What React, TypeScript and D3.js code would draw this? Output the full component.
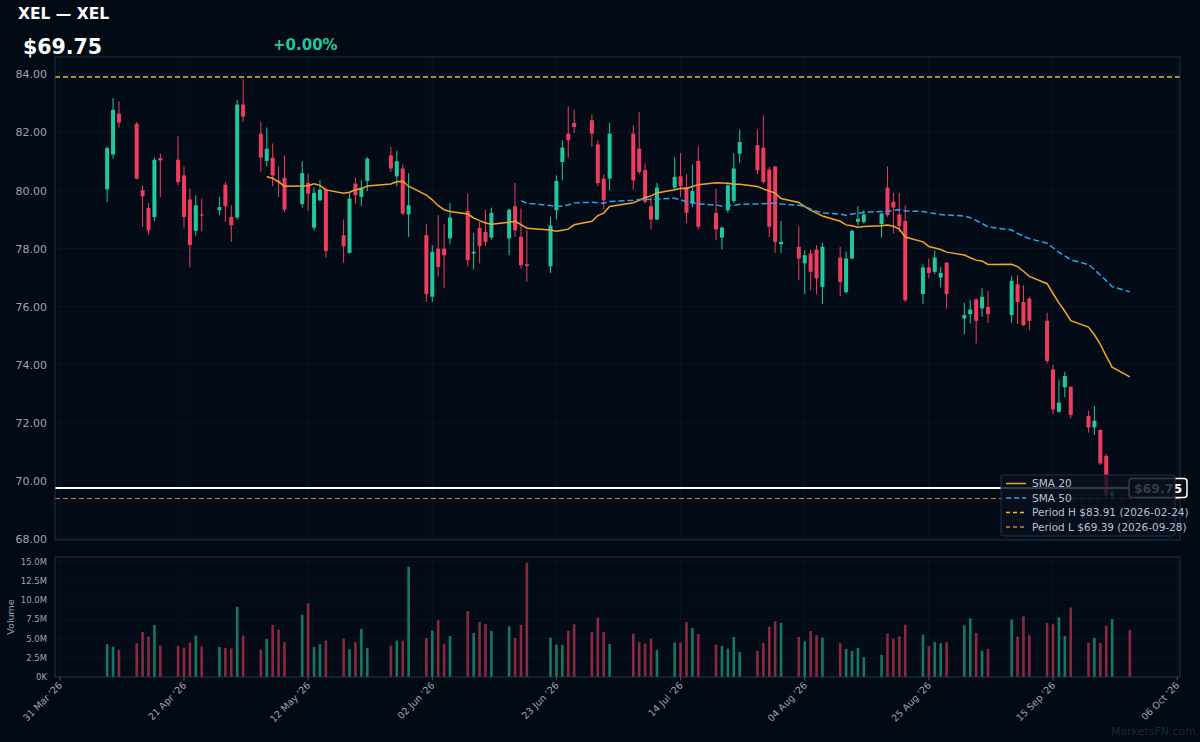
import React from 'react';
import * as d3 from 'd3';

// daily bars (volume in millions)
const dates = [
  '2026-04-08', '2026-04-09', '2026-04-10',
  '2026-04-13', '2026-04-14', '2026-04-15', '2026-04-16', '2026-04-17',
  '2026-04-20', '2026-04-21', '2026-04-22', '2026-04-23', '2026-04-24',
  '2026-04-27', '2026-04-28', '2026-04-29', '2026-04-30', '2026-05-01',
  '2026-05-04', '2026-05-05', '2026-05-06', '2026-05-07', '2026-05-08',
  '2026-05-11', '2026-05-12', '2026-05-13', '2026-05-14', '2026-05-15',
  '2026-05-18', '2026-05-19', '2026-05-20', '2026-05-21', '2026-05-22',
  '2026-05-26', '2026-05-27', '2026-05-28', '2026-05-29',
  '2026-06-01', '2026-06-02', '2026-06-03', '2026-06-04', '2026-06-05',
  '2026-06-08', '2026-06-09', '2026-06-10', '2026-06-11', '2026-06-12',
  '2026-06-15', '2026-06-16', '2026-06-17', '2026-06-18',
  '2026-06-22', '2026-06-23', '2026-06-24', '2026-06-25', '2026-06-26',
  '2026-06-29', '2026-06-30', '2026-07-01', '2026-07-02',
  '2026-07-06', '2026-07-07', '2026-07-08', '2026-07-09', '2026-07-10',
  '2026-07-13', '2026-07-14', '2026-07-15', '2026-07-16', '2026-07-17',
  '2026-07-20', '2026-07-21', '2026-07-22', '2026-07-23', '2026-07-24',
  '2026-07-27', '2026-07-28', '2026-07-29', '2026-07-30', '2026-07-31',
  '2026-08-03', '2026-08-04', '2026-08-05', '2026-08-06', '2026-08-07',
  '2026-08-10', '2026-08-11', '2026-08-12', '2026-08-13', '2026-08-14',
  '2026-08-17', '2026-08-18', '2026-08-19', '2026-08-20', '2026-08-21',
  '2026-08-24', '2026-08-25', '2026-08-26', '2026-08-27', '2026-08-28',
  '2026-08-31', '2026-09-01', '2026-09-02', '2026-09-03', '2026-09-04',
  '2026-09-08', '2026-09-09', '2026-09-10', '2026-09-11',
  '2026-09-14', '2026-09-15', '2026-09-16', '2026-09-17', '2026-09-18',
  '2026-09-21', '2026-09-22', '2026-09-23', '2026-09-24', '2026-09-25',
  '2026-09-28',
];

const opens = [
  80.04, 81.24, 82.65,
  82.3, 80.01, 79.4, 79.09, 81.12,
  81.06, 80.52, 79.69, 78.61, 79.18,
  79.32, 80.2, 79.09, 79.07, 82.96,
  81.96, 81.02, 81.13, 80.35, 80.44,
  79.53, 80.26, 78.72, 79.66, 80.03,
  78.46, 77.85, 80.24, 79.78, 80.33,
  81.21, 80.49, 80.76, 79.18,
  78.46, 76.34, 78.0, 78.0, 78.35,
  79.3, 77.83, 78.71, 78.57, 78.38,
  78.35, 79.46, 78.4, 77.46,
  77.39, 79.32, 80.98, 81.96, 82.33,
  82.42, 81.59, 80.41, 80.41,
  81.96, 81.44, 80.7, 79.46, 79.0,
  80.1, 80.49, 80.12, 79.55, 81.02,
  79.23, 78.38, 79.32, 79.64, 81.27,
  81.56, 81.48, 80.72, 80.83, 78.15,
  78.06, 77.49, 77.83, 77.97, 76.68,
  77.69, 76.5, 77.66, 78.92, 78.92,
  78.84, 80.1, 79.61, 79.18, 78.95,
  76.43, 77.35, 77.2, 77.0, 77.51,
  75.59, 75.74, 76.25, 75.94, 75.99,
  75.71, 76.77, 76.16, 76.28,
  75.51, 73.84, 72.38, 73.22, 73.24,
  72.23, 71.84, 71.75, 70.85, 69.48,
  69.8,
];

const highs = [
  81.52, 83.18, 83.07,
  82.36, 80.18, 79.57, 81.13, 81.27,
  81.87, 80.83, 80.07, 79.84, 79.72,
  79.78, 80.29, 79.49, 83.13, 83.85,
  82.36, 82.17, 81.62, 80.83, 81.21,
  81.01, 80.58, 80.1, 80.35, 80.1,
  79.0, 79.95, 80.44, 80.35, 81.15,
  81.5, 81.36, 80.9, 80.6,
  78.84, 78.12, 79.15, 78.84, 79.57,
  79.89, 78.54, 78.92, 79.34, 79.41,
  79.38, 80.26, 79.38, 78.63,
  79.09, 80.52, 81.73, 82.9, 82.78,
  82.62, 81.73, 80.56, 82.33,
  82.25, 82.7, 80.93, 79.78, 80.26,
  81.15, 81.29, 80.56, 80.9, 81.52,
  80.07, 78.77, 80.29, 81.29, 82.1,
  82.1, 82.59, 80.81, 80.83, 78.95,
  78.77, 77.94, 77.97, 78.12, 78.2,
  78.06, 77.89, 78.66, 79.46, 79.32,
  79.23, 80.83, 79.92, 79.92, 79.49,
  77.46, 77.66, 77.94, 77.37, 77.54,
  76.13, 76.22, 76.28, 76.63, 76.54,
  77.05, 77.08, 76.74, 76.34,
  75.79, 73.99, 73.49, 73.76, 73.26,
  72.41, 72.58, 71.77, 70.92, 69.85,
  69.95,
];

const lows = [
  79.61, 81.1, 82.17,
  80.38, 78.75, 78.48, 78.95, 79.78,
  80.18, 78.72, 77.35, 78.44, 78.6,
  79.15, 78.92, 78.23, 79.0, 82.36,
  80.64, 80.83, 80.15, 79.78, 79.26,
  79.41, 79.3, 78.63, 79.64, 77.69,
  77.51, 77.83, 79.53, 79.46, 79.98,
  80.64, 80.15, 79.15, 78.4,
  76.16, 76.16, 77.03, 76.63, 78.15,
  77.39, 77.28, 77.49, 78.08, 78.31,
  77.77, 78.4, 77.31, 76.86,
  77.16, 79.0, 80.35, 81.13, 81.98,
  81.5, 80.15, 79.34, 80.01,
  80.03, 80.56, 79.55, 78.66, 78.98,
  80.03, 79.78, 78.88, 79.43, 78.66,
  78.29, 77.97, 79.23, 79.57, 80.95,
  80.56, 80.24, 78.4, 77.85, 77.85,
  76.91, 76.43, 76.57, 76.43, 76.09,
  76.36, 76.45, 77.62, 78.8, 78.86,
  78.38, 79.09, 78.52, 78.57, 76.16,
  76.09, 76.97, 77.12, 76.66, 75.94,
  75.05, 75.42, 74.73, 75.65, 75.44,
  75.44, 75.4, 75.33, 75.19,
  74.04, 72.3, 72.34, 72.88, 72.15,
  71.66, 71.58, 70.55, 69.45, 69.42,
  69.39,
];

const closes = [
  81.46, 82.78, 82.34,
  80.41, 79.8, 78.63, 81.06, 81.04,
  80.29, 79.09, 78.12, 79.49, 79.14,
  79.43, 79.46, 78.8, 82.96, 82.55,
  81.13, 81.44, 80.52, 80.3, 79.34,
  80.6, 79.89, 79.92, 80.03, 77.92,
  78.08, 79.72, 79.84, 80.1, 81.1,
  80.76, 81.01, 79.21, 79.49,
  76.43, 77.89, 77.37, 77.77, 79.07,
  77.6, 77.89, 78.08, 78.23, 79.23,
  79.34, 78.63, 77.43, 77.4,
  78.8, 80.33, 81.48, 81.73, 82.19,
  81.96, 80.26, 79.66, 81.96,
  80.35, 80.64, 79.61, 79.0, 80.1,
  80.47, 80.15, 79.23, 79.98, 78.75,
  78.66, 78.72, 80.18, 80.76, 81.67,
  80.7, 80.29, 78.75, 78.23, 78.23,
  77.66, 77.77, 77.2, 76.97, 78.06,
  76.85, 77.66, 78.61, 79.03, 79.18,
  79.21, 79.15, 79.41, 78.77, 76.22,
  77.35, 77.16, 77.69, 77.16, 76.43,
  75.71, 75.9, 75.51, 76.34, 75.74,
  76.89, 76.16, 75.36, 75.51,
  74.13, 72.46, 72.69, 73.61, 72.27,
  71.84, 72.07, 70.6, 69.5, 69.62,
  69.75,
];

const volumes = [
  4.26, 3.96, 3.53,
  4.39, 5.85, 5.25, 6.76, 4.08,
  4.04, 3.82, 4.47, 5.38, 3.96,
  3.91, 3.79, 3.7, 9.12, 5.38,
  3.57, 4.95, 6.76, 6.15, 4.52,
  8.09, 9.6, 3.91, 4.26, 4.73,
  4.99, 3.62, 4.52, 6.24, 3.75,
  4.08, 4.73, 4.73, 14.34,
  5.06, 6.02, 7.4, 4.26, 5.34,
  8.57, 5.72, 7.14, 6.89, 5.98,
  6.59, 5.08, 6.76, 14.86,
  5.12, 4.21, 4.17, 6.02, 6.85,
  5.85, 7.7, 5.85, 4.3,
  5.63, 4.52, 4.34, 4.99, 3.53,
  4.47, 4.47, 7.14, 6.37, 5.59,
  4.21, 4.04, 3.7, 5.21, 3.23,
  3.4, 4.43, 6.54, 7.23, 7.02,
  5.21, 4.65, 5.98, 5.43, 5.12,
  4.39, 3.66, 3.4, 3.79, 2.58,
  2.88, 5.63, 4.99, 5.3, 6.8,
  5.5, 4.0, 4.52, 4.39, 4.56,
  6.72, 7.62, 5.72, 3.4, 3.66,
  7.49, 5.25, 7.88, 5.43,
  7.02, 6.85, 7.75, 5.34, 9.04,
  4.43, 5.08, 4.43, 6.67, 7.53,
  6.11,
];

const xTickDates = [
  '2026-03-31', '2026-04-21', '2026-05-12', '2026-06-02', '2026-06-23',
  '2026-07-14', '2026-08-04', '2026-08-25', '2026-09-15', '2026-10-06',
];
const priceTicks = [68, 70, 72, 74, 76, 78, 80, 82, 84];
const volumeTicks = [0, 2.5, 5, 7.5, 10, 12.5, 15];

const periodHigh = 83.91;
const periodLow = 69.39;
const lastPrice = 69.75;
const legendLabels = ['SMA 20', 'SMA 50', 'Period H $83.91 (2026-02-24)', 'Period L $69.39 (2026-09-28)'];

const BG = '#020a14';
const UP = '#22c79d';
const DOWN = '#f03c5f';
const AXIS_TEXT = '#9aa6b3';
const GRID = '#0a1522';
const FRAME = '#213246';
const FONT = "'DejaVu Sans', sans-serif";

const W = 1200;
const H = 742;
const left = 55;
const right = 1180;
const priceTop = 57;
const priceBottom = 540;
const volTop = 557;
const volBottom = 677;

const parse = d3.timeParse('%Y-%m-%d');

function sma(values: number[], n: number): (number | null)[] {
  return values.map((_, i) => (i < n - 1 ? null : d3.mean(values.slice(i - n + 1, i + 1)) ?? null));
}

const App: React.FC = () => {
  const days = dates.map((d) => parse(d) as Date);
  const [d0, d1] = d3.extent(days) as [Date, Date];
  const pad = (d1.getTime() - d0.getTime()) * 0.05;
  const x = d3
    .scaleTime()
    .domain([new Date(d0.getTime() - pad), new Date(d1.getTime() + pad)])
    .range([left + 1, right + 1]);
  const y = d3.scaleLinear().domain([67.96, 84.6]).range([priceBottom, priceTop]);
  const yv = d3.scaleLinear().domain([0, 15.6]).range([volBottom, volTop]);

  const sma20 = sma(closes, 20);
  const sma50 = sma(closes, 50);
  const line = d3
    .line<number | null>()
    .defined((d) => d != null)
    .x((_, i) => x(days[i]))
    .y((d) => y(d as number));

  const bodyW = 4;
  const volW = 2.6;
  const xTicks = xTickDates.map((d) => parse(d) as Date);
  const fmtTick = d3.timeFormat("%d %b '%y");
  const fmtVol = (v: number) => (v === 0 ? '0K' : `${v.toFixed(1)}M`);

  const legendX = 1001;
  const legendY = 475;
  const rowY = (i: number) => legendY + 8.5 + i * 14.5;

  return (
    <svg
      width={W}
      height={H}
      style={{ position: 'absolute', left: 0, top: 0, background: BG, fontFamily: FONT }}
    >
      <rect x={0} y={0} width={W} height={H} fill={BG} />

      {/* header */}
      <text x={18} y={19} fill="#ffffff" fontSize={15.5} fontWeight="bold">
        XEL — XEL
      </text>
      <text x={23} y={54} fill="#ffffff" fontSize={20.5} fontWeight="bold">
        ${lastPrice.toFixed(2)}
      </text>
      <text x={273} y={49.5} fill={UP} fontSize={15} fontWeight="bold">
        +0.00%
      </text>

      {/* price panel */}
      <rect x={left} y={priceTop} width={right - left} height={priceBottom - priceTop} fill="#030b17" />
      {priceTicks.map((t) => (
        <line key={`pg${t}`} x1={left} x2={right} y1={y(t)} y2={y(t)} stroke={GRID} />
      ))}
      {xTicks.map((t, i) => (
        <line key={`xg${i}`} x1={x(t)} x2={x(t)} y1={priceTop} y2={priceBottom} stroke={GRID} />
      ))}
      {priceTicks.map((t) => (
        <text key={`pl${t}`} x={47} y={y(t) + 4} fill={AXIS_TEXT} fontSize={11} textAnchor="end">
          {t.toFixed(2)}
        </text>
      ))}

      <line x1={left} x2={right} y1={y(periodHigh)} y2={y(periodHigh)} stroke="#e3c02a" strokeWidth={1.4} strokeDasharray="5,3" />
      <line x1={left} x2={right} y1={y(periodLow)} y2={y(periodLow)} stroke="#e5714e" strokeWidth={1.2} strokeDasharray="5,3" />

      {days.map((d, i) => {
        const up = closes[i] >= opens[i];
        const c = up ? UP : DOWN;
        const cx = x(d);
        const top = y(Math.max(opens[i], closes[i]));
        const bot = y(Math.min(opens[i], closes[i]));
        return (
          <g key={`c${i}`}>
            <line x1={cx} x2={cx} y1={y(highs[i])} y2={y(lows[i])} stroke={c} strokeWidth={1} />
            <rect x={cx - bodyW / 2} y={top} width={bodyW} height={Math.max(1, bot - top)} fill={c} />
          </g>
        );
      })}

      <path d={line(sma20) ?? ''} fill="none" stroke="#f5a524" strokeWidth={1.5} />
      <path d={line(sma50) ?? ''} fill="none" stroke="#2ba6e6" strokeWidth={1.5} strokeDasharray="6,3" />

      <line x1={left} x2={1129} y1={y(lastPrice)} y2={y(lastPrice)} stroke="#ffffff" strokeWidth={2} />
      <rect x={left} y={priceTop} width={right - left} height={priceBottom - priceTop} fill="none" stroke={FRAME} />

      {/* last price tag */}
      <rect x={1129} y={y(lastPrice) - 9.5} width={58} height={19} rx={3} fill="#060e1a" stroke="#ffffff" strokeWidth={1.5} />
      <text x={1158} y={y(lastPrice) + 4.5} fill="#ffffff" fontSize={12.5} fontWeight="bold" textAnchor="middle">
        ${lastPrice.toFixed(2)}
      </text>

      {/* legend */}
      <rect x={legendX} y={legendY} width={174} height={61} rx={2} fill="#07101c" fillOpacity={0.82} stroke="#22334a" />
      {legendLabels.map((lab, i) => {
        const styles = [
          { c: '#f5a524', dash: undefined },
          { c: '#2ba6e6', dash: '5,3' },
          { c: '#e3c02a', dash: '4,3' },
          { c: '#e5714e', dash: '4,3' },
        ][i];
        return (
          <g key={`lg${i}`}>
            <line x1={1006} x2={1026} y1={rowY(i)} y2={rowY(i)} stroke={styles.c} strokeWidth={1.5} strokeDasharray={styles.dash} />
            <text x={1032} y={rowY(i) + 3.8} fill="#b8c2cd" fontSize={10.5}>
              {lab}
            </text>
          </g>
        );
      })}

      {/* volume panel */}
      <rect x={left} y={volTop} width={right - left} height={volBottom - volTop} fill="#030b17" />
      {volumeTicks.map((t) => (
        <line key={`vg${t}`} x1={left} x2={right} y1={yv(t)} y2={yv(t)} stroke={GRID} />
      ))}
      {xTicks.map((t, i) => (
        <line key={`vx${i}`} x1={x(t)} x2={x(t)} y1={volTop} y2={volBottom} stroke={GRID} />
      ))}
      {days.map((d, i) => (
        <rect
          key={`v${i}`}
          x={x(d) - volW / 2}
          y={yv(volumes[i])}
          width={volW}
          height={yv(0) - yv(volumes[i])}
          fill={closes[i] >= opens[i] ? UP : DOWN}
          fillOpacity={0.58}
        />
      ))}
      <rect x={left} y={volTop} width={right - left} height={volBottom - volTop} fill="none" stroke={FRAME} />
      {volumeTicks.map((t) => (
        <text key={`vl${t}`} x={47} y={yv(t) + 3} fill={AXIS_TEXT} fontSize={8.5} textAnchor="end">
          {fmtVol(t)}
        </text>
      ))}
      <text
        transform={`translate(14,${(volTop + volBottom) / 2}) rotate(-90)`}
        fill={AXIS_TEXT}
        fontSize={9.5}
        textAnchor="middle"
      >
        Volume
      </text>

      {/* date axis */}
      {xTicks.map((t, i) => (
        <g key={`xt${i}`}>
          <line x1={x(t)} x2={x(t)} y1={volBottom} y2={volBottom + 3.5} stroke="#4a5a6c" />
          <text
            transform={`translate(${x(t) + 3},${volBottom + 9}) rotate(-45)`}
            fill={AXIS_TEXT}
            fontSize={9.5}
            textAnchor="end"
          >
            {fmtTick(t)}
          </text>
        </g>
      ))}

      <text x={1196} y={735} fill="#17293a" fontSize={11} textAnchor="end">
        MarketsFN.com
      </text>
    </svg>
  );
};

export default App;
